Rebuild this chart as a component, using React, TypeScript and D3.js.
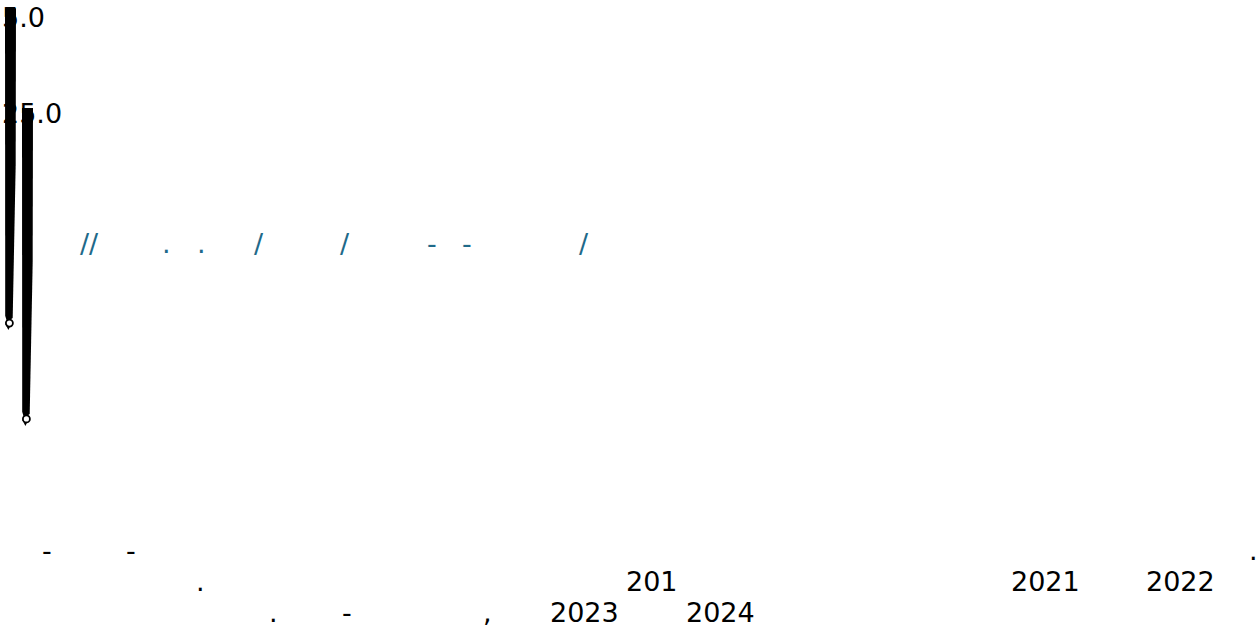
import React from "react";
import * as d3 from "d3";

// ---- data ----
const needleKeys = ["A", "B"];
const needleLabels = ["5.0", "25.0"];
// needle start / end, in percent of chart height
const needleStart = [1.3, 16.9];
const needleEnd = [50.4, 65.4];

// visible fragments of the (partially rendered) source link
const linkFragments = ["//", ".", ".", "/", "/", "-", "-", "/"];
// visible fragments of the footnote lines
const footLine1 = ["-", "-", "."];
const footLine2 = [".", "201", "2021", "2022"];
const footLine3 = [".", "-", ",", "2023", "2024"];

// ---- layout (positions of fragments, not data) ----
const W = 1257;
const H = 639;
const FONT = "'DejaVu Sans', sans-serif";
const FS = 27;
const linkX = [80, 162, 197, 254, 340, 427, 462, 579];
const linkY = 253;
const foot1X = [42, 126, 1249];
const foot2X = [196, 626, 1011, 1146];
const foot3X = [269, 342, 483, 550, 686];
const footY = [560, 591, 622];
const labelY = [27, 123];

export default function App() {
  const x = d3
    .scaleBand<string>()
    .domain(needleKeys)
    .range([5, 33])
    .paddingInner(0.353)
    .paddingOuter(0);
  const y = d3.scaleLinear().domain([0, 100]).range([0, H]);
  const bw = x.bandwidth();

  const needlePath = (i: number) => {
    const x0 = x(needleKeys[i]) as number;
    const t = y(needleStart[i]);
    const b = y(needleEnd[i]);
    const p = d3.path();
    p.moveTo(x0, t);
    p.lineTo(x0 + bw, t);
    p.lineTo(x0 + bw * 0.97, t + (b - t) * 0.5);
    p.lineTo(x0 + bw * 0.7, b - 4);
    p.lineTo(x0 + bw * 0.2, b);
    p.lineTo(x0 + bw * 0.02, b - 6);
    p.closePath();
    return p.toString();
  };

  const frag = (items: string[], xs: number[], yy: number, color: string, key: string) =>
    items.map((s, i) => (
      <text
        key={key + i}
        x={xs[i]}
        y={yy}
        fill={color}
        fontFamily={FONT}
        fontSize={FS}
      >
        {s}
      </text>
    ));

  return (
    <svg
      width={W}
      height={H}
      style={{ position: "absolute", left: 0, top: 0, background: "#fff" }}
    >
      {needleLabels.map((l, i) => (
        <text key={"l" + i} x={2} y={labelY[i]} fontFamily={FONT} fontSize={FS} fill="#000">
          {l}
        </text>
      ))}
      {needleKeys.map((k, i) => {
        const x0 = x(k) as number;
        const b = y(needleEnd[i]);
        const cx = x0 + bw * 0.4;
        return (
          <g key={k}>
            <path d={needlePath(i)} fill="#000" />
            <path
              d={`M${cx - 4},${b + 2} L${cx + 2},${b + 2} L${cx - 1},${b + 8} Z`}
              fill="#000"
            />
            <circle cx={cx} cy={b + 1} r={3.5} fill="#fff" stroke="#000" strokeWidth={1.8} />
          </g>
        );
      })}
      {frag(linkFragments, linkX, linkY, "#1f6a8a", "lk")}
      {frag(footLine1, foot1X, footY[0], "#000", "f1")}
      {frag(footLine2, foot2X, footY[1], "#000", "f2")}
      {frag(footLine3, foot3X, footY[2], "#000", "f3")}
    </svg>
  );
}
